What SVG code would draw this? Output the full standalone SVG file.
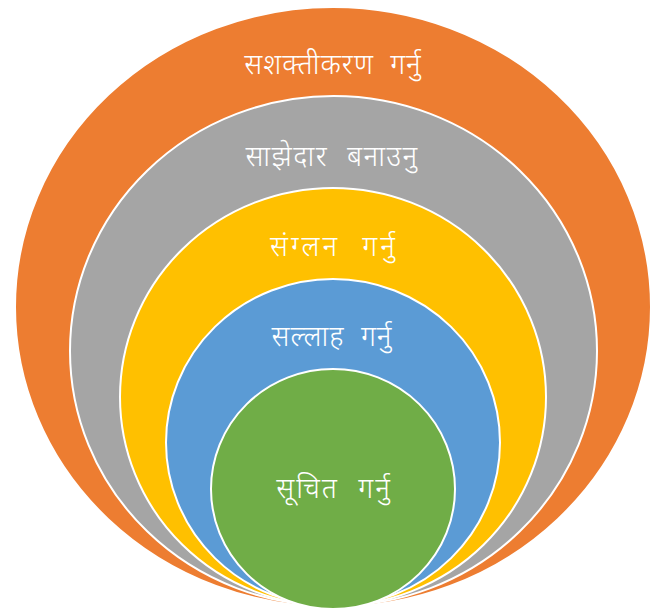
<svg xmlns="http://www.w3.org/2000/svg" width="654" height="609" viewBox="0 0 654 609">
<style>
.c{stroke:#fff;stroke-width:2}
.t{fill:#fff;font-family:"Noto Sans Devanagari","Noto Sans","Lohit Devanagari","Mangal",sans-serif;font-size:28px;font-weight:300;word-spacing:8px;letter-spacing:1px;text-anchor:middle}
</style>
<rect width="654" height="609" fill="#fff"/>
<g id="n1"><ellipse class="c" cx="333" cy="307" rx="318" ry="300" fill="#ED7D31"/><text class="t" x="333" y="74">सशक्तीकरण गर्नु</text></g>
<g id="n2"><ellipse class="c" cx="333.5" cy="351" rx="263.5" ry="255" fill="#A5A5A5"/><text class="t" x="332" y="166" style="word-spacing:10px;letter-spacing:1.5px">साझेदार बनाउनु</text></g>
<g id="n3"><ellipse class="c" cx="333" cy="397" rx="213" ry="209" fill="#FFC000"/><text class="t" x="334" y="256" style="word-spacing:12px;letter-spacing:3px">संग्लन गर्नु</text></g>
<g id="n4"><ellipse class="c" cx="333" cy="442.5" rx="167" ry="163.5" fill="#5B9BD5"/><text class="t" x="332" y="346">सल्लाह गर्नु</text></g>
<g id="n5"><ellipse class="c" cx="333" cy="489" rx="122" ry="120" fill="#70AD47"/><text class="t" x="334" y="498" style="word-spacing:10px;letter-spacing:2px">सूचित गर्नु</text></g>
<g id="connectors"/>
</svg>
